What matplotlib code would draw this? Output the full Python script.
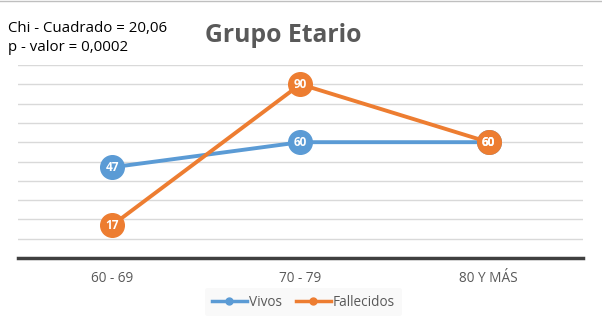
import matplotlib
matplotlib.use("Agg")
import matplotlib.pyplot as plt
from matplotlib.lines import Line2D

# datos por grupo etario
grupos = ["60 - 69", "70 - 79", "80 Y MÁS"]
vivos = [47, 60, 60]
fallecidos = [17, 90, 60]

AZUL = "#5B9BD5"
NARANJA = "#ED7D31"
GRIS = "#595959"

plt.rcParams['font.family'] = ['Open Sans', 'DejaVu Sans']

fig = plt.figure(figsize=(6.02, 3.23), dpi=100)
ax = fig.add_axes([0.030, 0.201, 0.938, 0.598])

x = range(len(grupos))
for serie, color in [(vivos, AZUL), (fallecidos, NARANJA)]:
    ax.plot(x, serie, color=color, lw=2.8, marker='o', markersize=17,
            markeredgecolor=color, zorder=3, solid_capstyle='round')
    for xi, v in zip(x, serie):
        ax.text(xi, v, str(v), ha='center', va='center', color='white',
                fontsize=8.5, fontweight='bold', zorder=4)

ax.set_xlim(-0.5, len(grupos) - 0.5)
ax.set_ylim(0, 100)
ax.set_yticks(range(10, 101, 10))
ax.yaxis.grid(True, color='#D9D9D9', lw=1)
ax.set_axisbelow(True)
ax.tick_params(axis='y', left=False, labelleft=False)
ax.tick_params(axis='x', bottom=False, colors=GRIS, labelsize=9.8, pad=6)
ax.set_xticks(list(x))
ax.set_xticklabels(grupos)
for s in ['top', 'right', 'left']:
    ax.spines[s].set_visible(False)
ax.spines['bottom'].set_color('#404040')
ax.spines['bottom'].set_linewidth(2.5)

# título y estadísticos
fig.text(0.340, 0.890, "Grupo Etario", fontsize=17.8, fontweight='bold',
         color=GRIS, ha='left', va='center')
fig.text(0.013, 0.913, "Chi - Cuadrado = 20,06", fontsize=10.8, color='black',
         ha='left', va='center')
fig.text(0.013, 0.853, "p - valor = 0,0002", fontsize=10.8, color='black',
         ha='left', va='center')

handles = [Line2D([], [], color=AZUL, lw=2.5, marker='o', markersize=5),
           Line2D([], [], color=NARANJA, lw=2.5, marker='o', markersize=5)]
fig.legend(handles, ["Vivos", "Fallecidos"], loc='center',
           bbox_to_anchor=(0.504, 0.065), ncol=2, frameon=True, fontsize=9.8,
           handlelength=2.6, handletextpad=0.15, columnspacing=1.0,
           borderpad=0.5, facecolor='#F8F8F8', edgecolor='none',
           labelcolor=GRIS)

# borde superior del gráfico
fig.add_artist(Line2D([0, 1], [0.997, 0.997], color='#BFBFBF', lw=1))

fig.savefig("out.png", dpi=100)
